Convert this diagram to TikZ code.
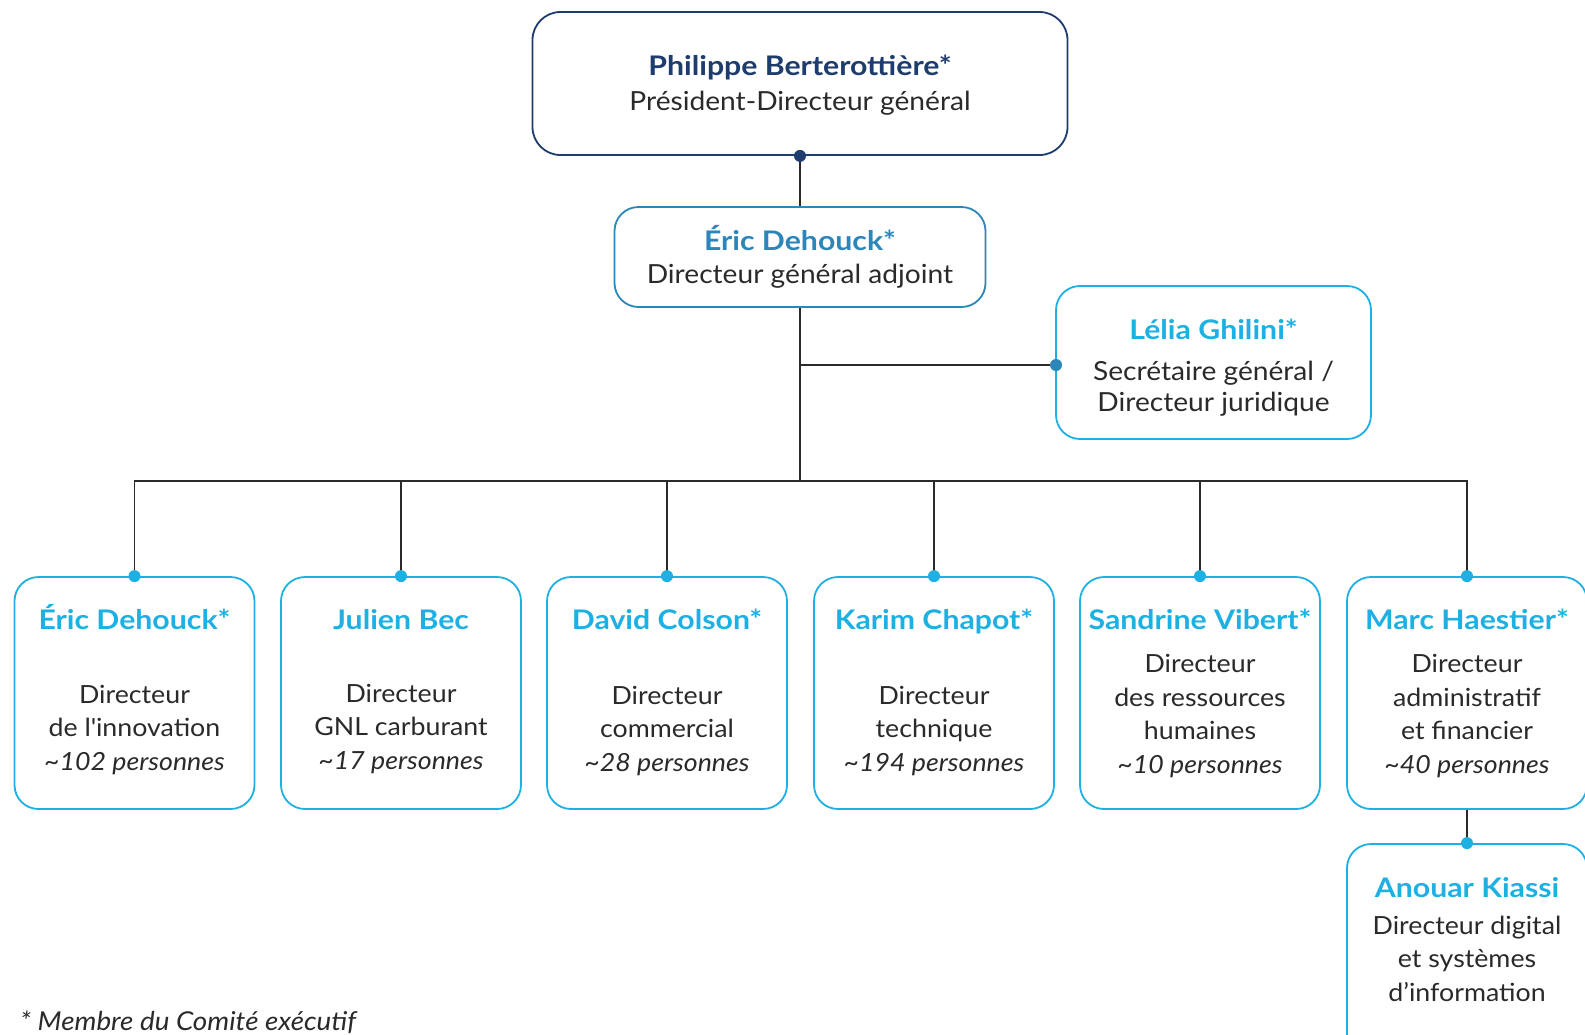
\documentclass[tikz,border=0pt]{standalone}
\usepackage{fontspec}
\setmainfont{Lato}[FakeStretch=1.07]
\newfontfamily\ttlfont{Lato}[FakeStretch=1.12]
\definecolor{navy}{HTML}{1E3C6E}
\definecolor{midblue}{HTML}{2C86B9}
\definecolor{cyanb}{HTML}{1DB1E3}
\definecolor{txt}{HTML}{2B2A29}
\begin{document}
\begin{tikzpicture}[x=1pt,y=-1pt,
  box/.style={draw, line width=1.8pt, rounded corners=24pt, minimum width=#1, inner sep=0pt},
  ttl/.style={font=\ttlfont\fontsize{27}{30}\selectfont\bfseries, inner sep=0pt, anchor=base},
  bod/.style={font=\fontsize{25}{33.4}\selectfont, text=txt, inner sep=0pt, align=center, anchor=base},
  bodbig/.style={bod, font=\fontsize{26.3}{33}\selectfont},
  lnk/.style={draw=txt, line width=1.6pt}]
\useasboundingbox (0,0) rectangle (1585,1034);
\clip (0,0) rectangle (1585,1034);
\fill[white] (0,0) rectangle (1585,1034);

% top
\node[box=535pt, draw=navy, minimum height=143pt, rounded corners=28pt] (top) at (800,83.5) {};
\node[ttl, text=navy] (topn) at (800,75) {Philippe Berterottière*};
\node[bodbig] (topr) at (800,110) {Président-Directeur général};

% second
\node[box=371pt, draw=midblue, minimum height=100pt] (dga) at (800,257) {};
\node[ttl, text=midblue] (dgan) at (800,250) {Éric Dehouck*};
\node[bodbig] (dgar) at (800,283) {Directeur général adjoint};

% Lelia
\node[box=315pt, draw=cyanb, minimum height=153pt] (sg) at (1213.5,362.5) {};
\node[ttl, text=cyanb] (sgn) at (1213.5,339) {Lélia Ghilini*};
\node[bodbig] (sgr1) at (1213.5,380) {Secrétaire général /};
\node[bodbig] (sgr2) at (1213.5,411) {Directeur juridique};
\coordinate (sgin) at (1056,365);

% bottom row
\foreach \n/\x in {b1/134.5,b2/401,b3/667,b4/934,b5/1200,b6/1467}{
  \node[box=240pt, draw=cyanb, minimum height=232pt] (\n) at (\x,693) {};
}
\node[ttl, text=cyanb] (b1n) at (b1.north |- 0,629) {Éric Dehouck*};
\node[bod] (b1r) at (b1.north |- 0,770) {Directeur\\de l\textquotesingle innovation\\\textit{\textasciitilde102 personnes}};
\node[ttl, text=cyanb] (b2n) at (b2.north |- 0,629) {Julien Bec};
\node[bod] (b2r) at (b2.north |- 0,769) {Directeur\\GNL carburant\\\textit{\textasciitilde17 personnes}};
\node[ttl, text=cyanb] (b3n) at (b3.north |- 0,629) {David Colson*};
\node[bod] (b3r) at (b3.north |- 0,771) {Directeur\\commercial\\\textit{\textasciitilde28 personnes}};
\node[ttl, text=cyanb] (b4n) at (b4.north |- 0,629) {Karim Chapot*};
\node[bod] (b4r) at (b4.north |- 0,771) {Directeur\\technique\\\textit{\textasciitilde194 personnes}};
\node[ttl, text=cyanb] (b5n) at (b5.north |- 0,629) {Sandrine Vibert*};
\node[bod] (b5r) at (b5.north |- 0,773) {Directeur\\des ressources\\humaines\\\textit{\textasciitilde10 personnes}};
\node[ttl, text=cyanb] (b6n) at (b6.north |- 0,629) {Marc Haestier*};
\node[bod] (b6r) at (b6.north |- 0,773) {Directeur\\administratif\\et financier\\\textit{\textasciitilde40 personnes}};

% Anouar
\node[box=240pt, draw=cyanb, minimum height=232pt] (dsi) at (1467,960) {};
\node[ttl, text=cyanb] (dsin) at (1467,897) {Anouar Kiassi};
\node[bod] (dsir) at (1467,1001) {Directeur digital\\et systèmes\\d’information};

% footnote
\node[font=\fontsize{26}{28}\selectfont\itshape, text=txt, inner sep=0pt, anchor=base west] (foot) at (20,1030) {* Membre du Comité exécutif};

% connectors
\coordinate (bus) at (800,481);
\draw[lnk] (top.south) -- (dga.north);
\draw[lnk] (dga.south) -- (bus);
\draw[lnk] (dga.south |- sgin) -- (sgin);
\draw[lnk] (b1.north) -- (b1.north |- bus) -- (b6.north |- bus) -- (b6.north);
\foreach \n in {b2,b3,b4,b5}{ \draw[lnk] (\n.north) -- (\n.north |- bus); }
\draw[lnk] (b6.south) -- (dsi.north);

% dots
\fill[navy] (top.south) circle[radius=6pt];
\fill[midblue] (sgin) circle[radius=6pt];
\foreach \n in {b1,b2,b3,b4,b5,b6,dsi}{ \fill[cyanb] (\n.north) circle[radius=6pt]; }
\end{tikzpicture}
\end{document}
